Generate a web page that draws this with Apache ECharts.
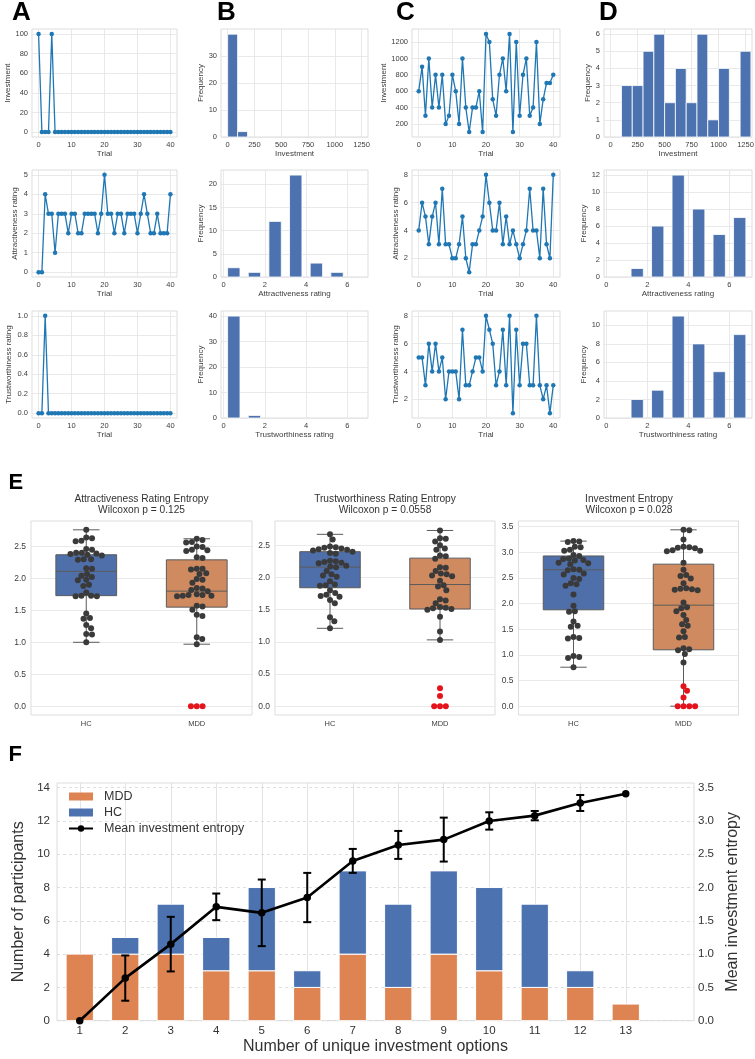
<!DOCTYPE html>
<html>
<head>
<meta charset="utf-8">
<script src="https://cdn.jsdelivr.net/npm/echarts@6/dist/echarts.min.js"></script>
<style>
html, body { margin: 0; padding: 0; background: #fff; }
#chart { width: 755px; height: 1059px; }
</style>
</head>
<body>
<div id="chart"></div>
<script>
// ---------- data ----------
const trials = [0,1,2,3,4,5,6,7,8,9,10,11,12,13,14,15,16,17,18,19,20,21,22,23,24,25,26,27,28,29,30,31,32,33,34,35,36,37,38,39,40];

// panel A: one participant, per trial
const aInvest = [100,0,0,0,100,0,0,0,0,0,0,0,0,0,0,0,0,0,0,0,0,0,0,0,0,0,0,0,0,0,0,0,0,0,0,0,0,0,0,0,0];
const aAttr   = [0,0,4,3,3,1,3,3,3,2,3,3,2,2,3,3,3,3,2,3,5,3,3,2,3,3,2,3,3,3,2,3,4,3,2,2,3,2,2,2,4];
const aTrust  = [0,0,1,0,0,0,0,0,0,0,0,0,0,0,0,0,0,0,0,0,0,0,0,0,0,0,0,0,0,0,0,0,0,0,0,0,0,0,0,0,0];

// panel C: another participant
const cInvest = [600,900,300,1000,400,800,400,800,200,300,800,600,200,1000,400,100,400,400,600,100,1300,1200,500,300,800,1000,600,1300,100,1200,300,800,1000,300,400,1200,200,500,700,700,800];
const cAttr   = [4,6,5,3,5,6,3,7,3,3,2,2,3,5,2,1,3,3,4,5,8,6,4,4,6,3,5,3,4,3,2,3,4,7,4,4,2,7,3,2,8];
const cTrust  = [5,5,3,6,4,6,4,5,2,4,4,4,2,7,3,3,4,5,5,4,8,7,6,3,4,7,3,8,1,7,3,6,6,3,3,8,3,2,3,1,3];

// panels B / D: histograms (bin edges + counts)
const investEdgesB = [0, 92.9, 185.7];
const investCountsB = [38, 2];
const investEdgesD = [100,200,300,400,500,600,700,800,900,1000,1100,1200,1300];
const investCountsD = [3,3,5,6,2,4,2,6,1,4,0,5];
const ratingEdges = [0,1,2,3,4,5,6,7];
const attrCountsB  = [2,1,12,22,3,1,0];
const trustCountsB = [40,1,0,0,0,0,0];
const attrCountsD  = [0,1,6,12,8,5,7];
const trustCountsD = [0,2,3,11,8,5,9];

// panel E: entropy per participant, box stats [low, q1, median, q3, high]
const groups = ['HC', 'MDD'];
const attrEntHC  = [2.76,2.64,2.63,2.59,2.58,2.46,2.45,2.40,2.40,2.39,2.38,2.37,2.36,2.30,2.30,2.29,2.16,2.15,2.07,2.04,2.02,1.98,1.97,1.90,1.88,1.78,1.73,1.73,1.72,1.72,1.45,1.38,1.37,1.27,1.22,1.13,1.12,1.00];
const attrEntMDD = [2.62,2.60,2.57,2.56,2.50,2.49,2.45,2.44,2.43,2.33,2.32,2.15,2.15,2.14,2.08,2.07,1.99,1.98,1.93,1.85,1.84,1.82,1.80,1.75,1.74,1.74,1.73,1.73,1.72,1.57,1.56,1.51,1.43,1.41,1.08,1.05,0.97];
const attrEntMDDRed = [0,0,0];
const attrBox = [[1.00,1.73,2.11,2.37,2.76],[0.97,1.55,1.80,2.29,2.62]];

const trustEntHC  = [2.67,2.59,2.48,2.47,2.46,2.45,2.44,2.43,2.42,2.40,2.38,2.37,2.26,2.25,2.24,2.23,2.22,2.18,2.17,2.16,2.10,2.05,2.03,2.01,1.94,1.89,1.88,1.87,1.80,1.76,1.73,1.71,1.70,1.65,1.60,1.38,1.32,1.21];
const trustEntMDD = [2.73,2.61,2.60,2.56,2.50,2.45,2.43,2.34,2.33,2.29,2.16,2.15,2.10,2.06,2.05,2.03,2.02,1.95,1.88,1.86,1.80,1.66,1.64,1.60,1.54,1.53,1.52,1.51,1.50,1.39,1.16,1.03];
const trustEntMDDRed = [0.28,0.16,0,0,0];
const trustBox = [[1.21,1.84,2.16,2.40,2.67],[1.03,1.51,1.89,2.30,2.73]];

const investEntHC  = [3.22,3.21,3.20,3.11,3.10,3.05,3.03,2.95,2.93,2.88,2.87,2.85,2.84,2.80,2.79,2.77,2.67,2.66,2.65,2.59,2.57,2.50,2.48,2.40,2.38,2.35,2.18,1.96,1.85,1.84,1.65,1.57,1.55,1.35,1.33,1.32,0.98,0.96,0.94,0.76];
const investEntMDD = [3.44,3.43,3.25,3.11,3.10,3.09,3.08,3.04,3.03,3.02,2.80,2.66,2.56,2.54,2.49,2.40,2.30,2.29,2.28,2.27,2.26,2.02,1.93,1.91,1.85,1.78,1.68,1.60,1.57,1.46,1.35,1.34,1.13,1.11,1.09,1.02,0.85];
const investEntMDDRed = [0.39,0.30,0.17,0,0,0,0];
const investBox = [[0.76,1.88,2.66,2.93,3.22],[0.00,1.10,1.97,2.77,3.44]];

// panel F
const nOptions = [1,2,3,4,5,6,7,8,9,10,11,12,13];
const mddCounts = [4,4,4,3,3,2,4,2,4,3,2,2,1];
const hcCounts  = [0,1,3,2,5,1,5,5,5,5,5,1,0];
const meanEntropy = [0,0.64,1.15,1.71,1.62,1.85,2.40,2.64,2.72,3.00,3.08,3.27,3.41];
const semEntropy  = [0,0.34,0.41,0.20,0.50,0.37,0.18,0.21,0.33,0.13,0.07,0.12,0];

// tick values
const ticksTrial = [0,10,20,30,40];
const ticksInvA = [0,20,40,60,80,100];
const ticksInvC = [200,400,600,800,1000,1200];
const ticksInvHist = [0,250,500,750,1000,1250];
const ticksRating = [0,2,4,6];
const ticksAttrA = [0,1,2,3,4,5];
const ticksTrustA = [0,0.2,0.4,0.6,0.8,1.0];
const ticksRatingC = [2,4,6,8];
const ticksFreqB1 = [0,10,20,30];
const ticksFreqB2 = [0,5,10,15,20];
const ticksFreqB3 = [0,10,20,30,40];
const ticksFreqD1 = [0,1,2,3,4,5,6];
const ticksFreqD2 = [0,2,4,6,8,10,12];
const ticksFreqD3 = [0,2,4,6,8,10];
const ticksEnt = [0,0.5,1,1.5,2,2.5];
const ticksEnt3 = [0,0.5,1,1.5,2,2.5,3,3.5];
const ticksCount = [0,2,4,6,8,10,12,14];
const ticksMean = [0,0.5,1,1.5,2,2.5,3,3.5];

// ---------- styling ----------
const FONT = '"Liberation Sans", Arial, sans-serif';
const TXT = '#3d3d3d';
const GRIDLINE = '#e3e3e3';
const LINE_BLUE = '#1f77b4';
const HIST_BLUE = '#4c72b0';
const BOX_COLORS = ['#4e6fa9', '#cf8a60'];
const ORANGE = '#dd8452';
const BLUE = '#4c72b0';
const fix1 = v => v.toFixed(1);

const grids = [], xAxes = [], yAxes = [], series = [];

function addGrid(l, t, r, b) {
    grids.push({left: l, top: t, width: r - l, height: b - t, show: true,
        borderColor: '#d4d4d4', borderWidth: 0.8, backgroundColor: '#fff',
        containLabel: false, outerBoundsMode: 'none'});
    return grids.length - 1;
}

function valAxis(gi, o) {
    return {
        type: 'value', gridIndex: gi, min: o.min, max: o.max, position: o.pos,
        name: o.name, nameLocation: 'middle', nameGap: o.gap,
        nameTextStyle: {fontFamily: FONT, fontSize: o.nameSize || 8, color: o.color || TXT},
        axisLine: {show: false},
        axisTick: {show: false, customValues: o.ticks},
        axisLabel: {customValues: o.ticks, fontFamily: FONT, fontSize: o.size || 7.5,
            color: o.color || TXT, margin: o.margin != null ? o.margin : 3.5,
            formatter: o.fmt || (v => String(v))},
        splitLine: {show: o.split !== false,
            lineStyle: {color: o.lineColor || GRIDLINE, width: o.lw || 0.8, type: o.dash ? [3, 3] : 'solid'}}
    };
}

function lineSeries(gi, ys) {
    series.push({
        type: 'line', xAxisIndex: gi, yAxisIndex: gi,
        data: trials.map((t, i) => [t, ys[i]]),
        symbol: 'circle', symbolSize: 4.5, showSymbol: true,
        lineStyle: {color: LINE_BLUE, width: 1.3}, itemStyle: {color: LINE_BLUE}, z: 3
    });
}

function histSeries(gi, edges, counts, frac) {
    series.push({
        type: 'custom', xAxisIndex: gi, yAxisIndex: gi,
        data: counts.map((c, i) => [edges[i], edges[i + 1], c]),
        encode: {x: [0, 1], y: 2},
        renderItem(params, api) {
            const l = api.value(0), r = api.value(1), c = api.value(2);
            if (!c) return null;
            const pad = (r - l) * (1 - frac) / 2;
            const p0 = api.coord([l + pad, 0]), p1 = api.coord([r - pad, c]);
            return {type: 'rect',
                shape: {x: p0[0], y: p1[1], width: p1[0] - p0[0], height: p0[1] - p1[1]},
                style: {fill: HIST_BLUE, stroke: '#fff', lineWidth: 0.8}};
        }
    });
}

// seaborn-like swarm: place each point as close to the centre as possible
function beeswarm(ys, d) {
    const order = ys.map((y, i) => i).sort((a, b) => ys[a] - ys[b]);
    const placed = [], xs = [];
    order.forEach(i => {
        const y = ys[i];
        const near = placed.filter(p => Math.abs(p.y - y) < d);
        const cands = [0];
        near.forEach(p => {
            const dx = Math.sqrt(d * d - (p.y - y) * (p.y - y));
            cands.push(p.x + dx, p.x - dx);
        });
        cands.sort((a, b) => Math.abs(a) - Math.abs(b));
        const x = cands.find(cx => near.every(p => (p.x - cx) * (p.x - cx) + (p.y - y) * (p.y - y) >= d * d - 0.01));
        xs[i] = x;
        placed.push({x: x, y: y});
    });
    return xs;
}

function swarmSeries(gi, cat, vals, redVals) {
    const all = vals.concat(redVals);
    let offs = null;
    series.push({
        type: 'custom', xAxisIndex: gi, yAxisIndex: gi, z: 5,
        data: all.map(v => [cat, v]),
        renderItem(params, api) {
            if (!offs) offs = beeswarm(all.map(v => api.coord([cat, v])[1]), 5.8);
            const i = params.dataIndex;
            const p = api.coord([cat, all[i]]);
            return {type: 'circle', shape: {cx: p[0] + offs[i], cy: p[1], r: 3},
                style: {fill: i >= vals.length ? '#e3141c' : '#3a3a3a'}};
        }
    });
}

function boxSeries(gi, stats) {
    series.push({
        type: 'custom', xAxisIndex: gi, yAxisIndex: gi, z: 2,
        data: stats.map((s, i) => [i].concat(s)),
        renderItem(params, api) {
            const i = api.value(0);
            const band = api.size([1, 0])[0];
            const hw = band * 0.275, cw = band * 0.12;
            const pt = v => api.coord([i, v]);
            const lo = pt(api.value(1)), q1 = pt(api.value(2)), md = pt(api.value(3)),
                  q3 = pt(api.value(4)), hi = pt(api.value(5));
            const cx = md[0];
            const ls = {stroke: '#5b5b5b', lineWidth: 1};
            return {type: 'group', children: [
                {type: 'line', shape: {x1: cx, y1: hi[1], x2: cx, y2: q3[1]}, style: ls},
                {type: 'line', shape: {x1: cx, y1: q1[1], x2: cx, y2: lo[1]}, style: ls},
                {type: 'line', shape: {x1: cx - cw, y1: hi[1], x2: cx + cw, y2: hi[1]}, style: ls},
                {type: 'line', shape: {x1: cx - cw, y1: lo[1], x2: cx + cw, y2: lo[1]}, style: ls},
                {type: 'rect', shape: {x: cx - hw, y: q3[1], width: 2 * hw, height: q1[1] - q3[1]},
                    style: {fill: BOX_COLORS[i], stroke: '#5b5b5b', lineWidth: 1}},
                {type: 'line', shape: {x1: cx - hw, y1: md[1], x2: cx + hw, y2: md[1]}, style: ls}
            ]};
        }
    });
}

// ---------- panels A-D ----------
const cols = [[32, 177], [221, 368], [412, 560], [604, 752]];
const rows = [[29, 137], [170, 277], [311, 418]];

const trialX = {min: -2, max: 42, ticks: ticksTrial, name: 'Trial', gap: 13};
const rowSpecs = [
    {   // investment
        A: {x: trialX, y: {min: -5, max: 105, ticks: ticksInvA, name: 'Investment', gap: 20}, ys: aInvest},
        B: {x: {min: -62, max: 1310, ticks: ticksInvHist, name: 'Investment', gap: 13},
            y: {min: 0, max: 39.9, ticks: ticksFreqB1, name: 'Frequency', gap: 15},
            edges: investEdgesB, counts: investCountsB, frac: 1},
        C: {x: trialX, y: {min: 40, max: 1360, ticks: ticksInvC, name: 'Investment', gap: 21}, ys: cInvest},
        D: {x: {min: -62, max: 1310, ticks: ticksInvHist, name: 'Investment', gap: 13},
            y: {min: 0, max: 6.3, ticks: ticksFreqD1, name: 'Frequency', gap: 10},
            edges: investEdgesD, counts: investCountsD, frac: 1}
    },
    {   // attractiveness
        A: {x: trialX, y: {min: -0.25, max: 5.25, ticks: ticksAttrA, name: 'Attractiveness rating', gap: 13.5}, ys: aAttr},
        B: {x: {min: -0.12, max: 7.0, ticks: ticksRating, name: 'Attractiveness rating', gap: 13},
            y: {min: 0, max: 23.1, ticks: ticksFreqB2, name: 'Frequency', gap: 15},
            edges: ratingEdges, counts: attrCountsB, frac: 0.6},
        C: {x: trialX, y: {min: 0.65, max: 8.35, ticks: ticksRatingC, name: 'Attractiveness rating', gap: 10.5}, ys: cAttr},
        D: {x: {min: -0.12, max: 7.1, ticks: ticksRating, name: 'Attractiveness rating', gap: 13},
            y: {min: 0, max: 12.6, ticks: ticksFreqD2, name: 'Frequency', gap: 14},
            edges: ratingEdges, counts: attrCountsD, frac: 0.6}
    },
    {   // trustworthiness
        A: {x: trialX, y: {min: -0.05, max: 1.05, ticks: ticksTrustA, name: 'Trustworthiness rating', gap: 19.5, fmt: fix1}, ys: aTrust},
        B: {x: {min: -0.12, max: 7.0, ticks: ticksRating, name: 'Trustworthiness rating', gap: 13},
            y: {min: 0, max: 42, ticks: ticksFreqB3, name: 'Frequency', gap: 14},
            edges: ratingEdges, counts: trustCountsB, frac: 0.6},
        C: {x: trialX, y: {min: 0.65, max: 8.35, ticks: ticksRatingC, name: 'Trustworthiness rating', gap: 10.5}, ys: cTrust},
        D: {x: {min: -0.12, max: 7.1, ticks: ticksRating, name: 'Trustworthiness rating', gap: 13},
            y: {min: 0, max: 11.55, ticks: ticksFreqD3, name: 'Frequency', gap: 14},
            edges: ratingEdges, counts: trustCountsD, frac: 0.6}
    }
];

rowSpecs.forEach((spec, r) => {
    ['A', 'B', 'C', 'D'].forEach((key, c) => {
        const s = spec[key];
        const gi = addGrid(cols[c][0], rows[r][0], cols[c][1], rows[r][1]);
        xAxes.push(valAxis(gi, s.x));
        yAxes.push(valAxis(gi, Object.assign({margin: 4}, s.y)));
        if (s.ys) lineSeries(gi, s.ys);
        else histSeries(gi, s.edges, s.counts, s.frac);
    });
});

// ---------- panel E ----------
const ePanels = [
    {l: 31, r: 252, max: 2.898, min: -0.138, ticks: ticksEnt, box: attrBox, hc: attrEntHC, mdd: attrEntMDD, red: attrEntMDDRed},
    {l: 275, r: 495, max: 2.877, min: -0.137, ticks: ticksEnt, box: trustBox, hc: trustEntHC, mdd: trustEntMDD, red: trustEntMDDRed},
    {l: 518.5, r: 738.5, max: 3.612, min: -0.172, ticks: ticksEnt3, box: investBox, hc: investEntHC, mdd: investEntMDD, red: investEntMDDRed}
];
ePanels.forEach(p => {
    const gi = addGrid(p.l, 521, p.r, 715);
    xAxes.push({type: 'category', gridIndex: gi, data: groups, boundaryGap: true,
        axisLine: {show: false}, axisTick: {show: false}, splitLine: {show: false},
        axisLabel: {fontFamily: FONT, fontSize: 7.5, color: TXT, margin: 4.5}});
    yAxes.push(valAxis(gi, {min: p.min, max: p.max, ticks: p.ticks, fmt: fix1, size: 8.5, margin: 5}));
    boxSeries(gi, p.box);
    swarmSeries(gi, 0, p.hc, []);
    swarmSeries(gi, 1, p.mdd, p.red);
});

// ---------- panel F ----------
const gF = addGrid(57, 783, 694, 1020.7);
xAxes.push(valAxis(gF, {min: 0.5, max: 14.5, ticks: nOptions, size: 11.5, margin: 4,
    name: 'Number of unique investment options', nameSize: 16, gap: 18, color: '#333', lineColor: '#dcdcdc'}));
yAxes.push(valAxis(gF, {min: 0, max: 14.28, ticks: ticksCount, size: 11.5, margin: 7,
    name: 'Number of participants', nameSize: 16, gap: 22, color: '#333', dash: true, lineColor: '#d6d6d6'}));
yAxes.push(valAxis(gF, {min: 0, max: 3.57, ticks: ticksMean, size: 11.5, margin: 4, pos: 'right', fmt: fix1,
    name: 'Mean investment entropy', nameSize: 16, gap: 24, color: '#333', split: false}));
const yRight = yAxes.length - 1;

// stacked bars: HC sits on top of MDD
function stackBars(name, color, bases, heights) {
    series.push({
        type: 'custom', name: name, xAxisIndex: gF, yAxisIndex: gF, z: 2,
        itemStyle: {color: color},
        data: nOptions.map((x, i) => [x, bases[i], bases[i] + heights[i]]),
        renderItem(params, api) {
            const x = api.value(0), b = api.value(1), t = api.value(2);
            if (t <= b) return null;
            const w = api.size([0.6, 0])[0];
            const p0 = api.coord([x, b]), p1 = api.coord([x, t]);
            return {type: 'rect',
                shape: {x: p0[0] - w / 2, y: p1[1], width: w, height: p0[1] - p1[1]},
                style: {fill: color, stroke: '#fff', lineWidth: 1}};
        }
    });
}
stackBars('MDD', ORANGE, nOptions.map(() => 0), mddCounts);
stackBars('HC', BLUE, mddCounts, hcCounts);

series.push({
    type: 'custom', xAxisIndex: gF, yAxisIndex: yRight, z: 9,
    data: nOptions.map((x, i) => [x, meanEntropy[i], semEntropy[i]]),
    renderItem(params, api) {
        const x = api.value(0), m = api.value(1), e = api.value(2);
        if (!e) return null;
        const top = api.coord([x, m + e]), bot = api.coord([x, m - e]);
        const cw = 4, st = {stroke: '#000', lineWidth: 2};
        return {type: 'group', children: [
            {type: 'line', shape: {x1: top[0], y1: top[1], x2: bot[0], y2: bot[1]}, style: st},
            {type: 'line', shape: {x1: top[0] - cw, y1: top[1], x2: top[0] + cw, y2: top[1]}, style: st},
            {type: 'line', shape: {x1: bot[0] - cw, y1: bot[1], x2: bot[0] + cw, y2: bot[1]}, style: st}
        ]};
    }
});
series.push({
    type: 'line', name: 'Mean investment entropy', xAxisIndex: gF, yAxisIndex: yRight, z: 10,
    data: nOptions.map((x, i) => [x, meanEntropy[i]]),
    symbol: 'circle', symbolSize: 7.5, showSymbol: true,
    lineStyle: {color: '#000', width: 2.6}, itemStyle: {color: '#000'}
});

// ---------- texts ----------
const letter = (t, x, y, size) => ({text: t, left: x, top: y, padding: 0,
    textStyle: {fontFamily: FONT, fontSize: size, fontWeight: 'bold', color: '#000'}});
const eTitle = (t, x) => ({text: t, left: x, top: 493.5, padding: 0, textAlign: 'center',
    textStyle: {fontFamily: FONT, fontSize: 10.2, fontWeight: 'normal', color: '#333', lineHeight: 11}});

const option = {
    animation: false,
    backgroundColor: '#fff',
    title: [
        letter('A', 12, 0, 26), letter('B', 217, 0, 26), letter('C', 396, 0, 26), letter('D', 599, 0, 26),
        letter('E', 8.5, 472, 22), letter('F', 8.5, 744, 22),
        eTitle('Attractiveness Rating Entropy\nWilcoxon p = 0.125', 141.5),
        eTitle('Trustworthiness Rating Entropy\nWilcoxon p = 0.0558', 385),
        eTitle('Investment Entropy\nWilcoxon p = 0.028', 629)
    ],
    legend: {
        orient: 'vertical', left: 68, top: 790, padding: 0,
        itemWidth: 24, itemHeight: 8, itemGap: 3,
        data: [{name: 'MDD', icon: 'rect'}, {name: 'HC', icon: 'rect'}, 'Mean investment entropy'],
        textStyle: {fontFamily: FONT, fontSize: 12.5, color: '#333', padding: [0, 0, 0, 6]}
    },
    grid: grids,
    xAxis: xAxes,
    yAxis: yAxes,
    series: series
};

const chart = echarts.init(document.getElementById('chart'));
chart.setOption(option);
</script>
</body>
</html>
